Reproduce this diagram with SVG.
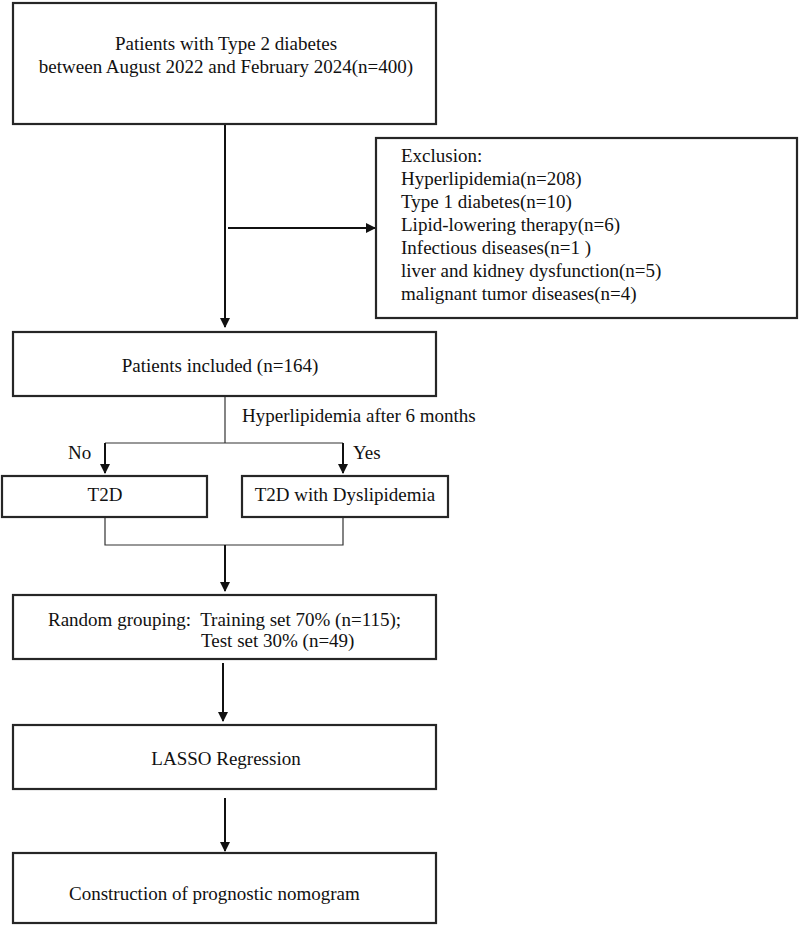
<svg xmlns="http://www.w3.org/2000/svg" width="800" height="927" viewBox="0 0 800 927">
<style>
.box{fill:#fff;stroke:#262626;stroke-width:2.2}
.t{font-family:"Liberation Serif","Times New Roman",serif;font-size:19px;fill:#111}
.c{text-anchor:middle}
.ln{stroke:#111;stroke-width:2;fill:none}
.thin{stroke:#333;stroke-width:1.2;fill:none}
</style>
<defs>
<marker id="ah" markerWidth="10" markerHeight="10" refX="9" refY="5" orient="auto" markerUnits="userSpaceOnUse">
<path d="M0,0 L10,5 L0,10 Z" fill="#111"/>
</marker>
</defs>
<rect width="800" height="927" fill="#fff"/>
<g id="connectors">
<line class="ln" x1="225" y1="124" x2="225" y2="327" marker-end="url(#ah)"/>
<line class="ln" x1="228" y1="228" x2="375" y2="228" marker-end="url(#ah)"/>
<polyline class="thin" points="225,397 225,443"/>
<polyline class="thin" points="105,443 343,443"/>
<line class="ln" x1="105" y1="443" x2="105" y2="473" marker-end="url(#ah)"/>
<line class="ln" x1="343" y1="443" x2="343" y2="473" marker-end="url(#ah)"/>
<polyline class="thin" points="105,517 105,545 343,545 343,517"/>
<line class="ln" x1="225" y1="545" x2="225" y2="591" marker-end="url(#ah)"/>
<line class="ln" x1="223" y1="663" x2="223" y2="721" marker-end="url(#ah)"/>
<line class="ln" x1="225" y1="798" x2="225" y2="851" marker-end="url(#ah)"/>
<text class="t" x="242" y="422">Hyperlipidemia after 6 months</text>
<text class="t" x="68" y="459">No</text>
<text class="t" x="353" y="459">Yes</text>
</g>
<g id="n1">
<rect class="box" x="13" y="3" width="423" height="121"/>
<text class="t c" x="226" y="50">Patients with Type 2 diabetes</text>
<text class="t c" x="226" y="73">between August 2022 and February 2024(n=400)</text>
</g>
<g id="exclusion">
<rect class="box" x="376" y="138" width="421" height="180"/>
<text class="t" x="401" y="162">Exclusion:</text>
<text class="t" x="401" y="185">Hyperlipidemia(n=208)</text>
<text class="t" x="401" y="208">Type 1 diabetes(n=10)</text>
<text class="t" x="401" y="231">Lipid-lowering therapy(n=6)</text>
<text class="t" x="401" y="254">Infectious diseases(n=1 )</text>
<text class="t" x="401" y="277">liver and kidney dysfunction(n=5)</text>
<text class="t" x="401" y="300">malignant tumor diseases(n=4)</text>
</g>
<g id="n2">
<rect class="box" x="13" y="332" width="423" height="64"/>
<text class="t c" x="220" y="372">Patients included (n=164)</text>
</g>
<g id="t2d">
<rect class="box" x="2" y="476" width="205" height="41"/>
<text class="t c" x="105" y="501">T2D</text>
</g>
<g id="t2dd">
<rect class="box" x="242" y="476" width="206" height="41"/>
<text class="t c" x="345" y="501">T2D with Dyslipidemia</text>
</g>
<g id="n3">
<rect class="box" x="13" y="595" width="423" height="64"/>
<text class="t" x="48" y="626" xml:space="preserve">Random grouping:  Training set 70% (n=115);</text>
<text class="t" x="201" y="647">Test set 30% (n=49)</text>
</g>
<g id="n4">
<rect class="box" x="13" y="725" width="423" height="64"/>
<text class="t c" x="226" y="765">LASSO Regression</text>
</g>
<g id="n5">
<rect class="box" x="13" y="853" width="423" height="70"/>
<text class="t" x="69" y="900">Construction of prognostic nomogram</text>
</g>
</svg>
